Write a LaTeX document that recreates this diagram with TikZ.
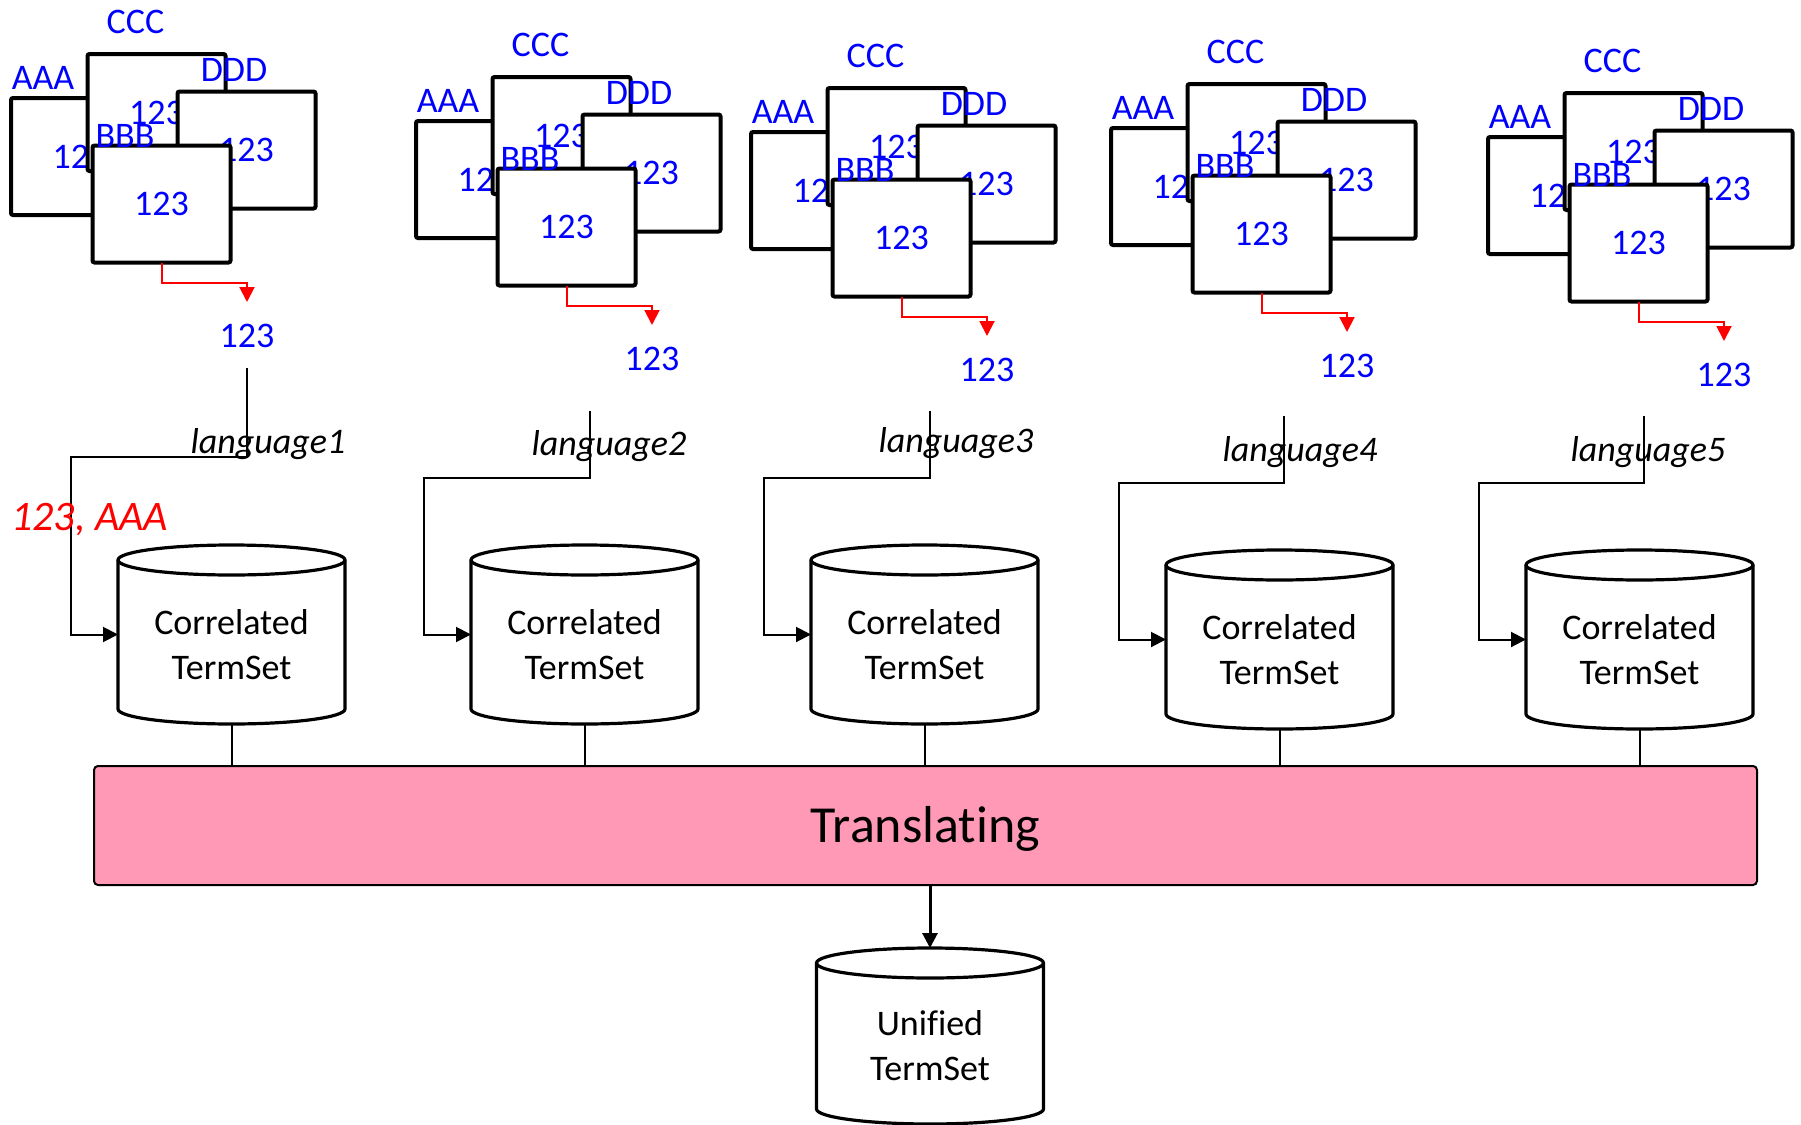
\documentclass[tikz,border=0pt]{standalone}
\usepackage{fontspec}
\setmainfont{Carlito}[Ligatures=NoCommon]
\usetikzlibrary{arrows.meta,calc}

\definecolor{docblue}{RGB}{0,0,255}
\definecolor{flowred}{RGB}{255,0,0}
\definecolor{transpink}{RGB}{255,153,181}

\tikzset{
  docbox/.style={draw=black, line width=2pt, fill=white, rounded corners=1pt,
    minimum width=69pt, minimum height=58.5pt, inner sep=0pt, outer sep=0pt,
    text=docblue, font=\fontsize{18}{21}\selectfont},
  tag/.style={text=docblue, font=\fontsize{18}{21}\selectfont, inner sep=0pt},
  lang/.style={font=\fontsize{18}{21}\selectfont\itshape, inner sep=0pt},
  redconn/.style={draw=flowred, line width=1pt, -{Triangle[width=7.5pt,length=7.5pt]}},
  conn/.style={draw=black, line width=1pt, -{Triangle[width=7.5pt,length=7.5pt]}},
  wire/.style={draw=black, line width=1pt},
  cylbox/.style={draw=none, inner sep=0pt, outer sep=0pt, minimum width=113.5pt},
  cylline/.style={draw=black, line width=1.6pt, fill=white},
  cyltext/.style={align=center, font=\fontsize{18}{22.5}\selectfont, inner sep=0pt},
  transbox/.style={draw=black, line width=1pt, fill=transpink, rounded corners=2pt,
    minimum width=831.5pt, minimum height=59.5pt, inner sep=0pt, outer sep=0pt,
    font=\fontsize{26}{30}\selectfont, text height=22pt, text depth=5pt}
}

% a stack of four overlapping documents with its extracted term
\newcommand\docstack[3]{%
  \begin{scope}[shift={(#2,#3)}]
    \node[docbox] (a#1) at (80,156.5) {123};
    \node[docbox] (c#1) at (156.5,112.5) {123};
    \node[docbox] (d#1) at (246.5,150) {123};
    \node[docbox] (b#1) at (161.5,204) {123};
    \node[tag] (ta#1) at (43,78) {AAA};
    \node[tag] (tc#1) at (135.5,21.5) {CCC};
    \node[tag] (td#1) at (234,69.5) {DDD};
    \node[tag] (tb#1) at (125,136) {BBB};
    \node[tag] (o#1) at (247,336) {123};
    \coordinate (rb#1) at (247,283);
    \coordinate (rt#1) at (247,302);
    \draw[redconn] (b#1.south) |- (rb#1) -- (rt#1);
  \end{scope}}

% database cylinder: name, centre x, top y, bottom y, two text lines
\newcommand\tsdb[6]{%
  \node[cylbox, minimum height={(#4-#3)*0.5pt}] (#1) at (#2,{(#3+#4)/2}) {};
  \draw[cylline] ({#2-113.5},{#3+15}) -- ({#2-113.5},{#4-15})
    arc[start angle=180, end angle=0, x radius=113.5, y radius=15]
    -- ({#2+113.5},{#3+15})
    arc[start angle=0, end angle=-180, x radius=113.5, y radius=15] -- cycle;
  \draw[cylline, fill=none] ({#2-113.5},{#3+15})
    arc[start angle=180, end angle=0, x radius=113.5, y radius=15];
  \node[cyltext] (#1t) at (#2,{(#3+#4)/2+10}) {#5\\#6};}

\begin{document}
\begin{tikzpicture}[x=0.5pt, y=-0.5pt]
  \useasboundingbox (0,0) rectangle (1801,1125);

  % document stacks
  \docstack{1}{0}{0}
  \docstack{2}{405}{23}
  \docstack{3}{740}{34}
  \docstack{4}{1100}{30}
  \docstack{5}{1477}{39}

  % correlated term sets
  \tsdb{cyl1}{231.5}{545}{724}{Correlated}{TermSet}
  \tsdb{cyl2}{584.5}{545}{724}{Correlated}{TermSet}
  \tsdb{cyl3}{924.5}{545}{724}{Correlated}{TermSet}
  \tsdb{cyl4}{1279.5}{550}{729}{Correlated}{TermSet}
  \tsdb{cyl5}{1639.5}{550}{729}{Correlated}{TermSet}

  % language feeds
  \coordinate (s1) at (247,368);  \coordinate (k1) at (71,457);
  \coordinate (s2) at (590,411);  \coordinate (k2) at (424,478);
  \coordinate (s3) at (930,411);  \coordinate (k3) at (764,478);
  \coordinate (s4) at (1284,416); \coordinate (k4) at (1119,483);
  \coordinate (s5) at (1644,416); \coordinate (k5) at (1479,483);
  \foreach \i in {1,...,5}{
    \draw[conn] (s\i) |- (k\i) |- (cyl\i.west);
  }

  \node[lang] (lg1) at (268,444) {language1};
  \node[lang] (lg2) at (609,446) {language2};
  \node[lang] (lg3) at (956,443) {language3};
  \node[lang] (lg4) at (1300,452) {language4};
  \node[lang] (lg5) at (1648,452) {language5};

  \node[inner sep=0pt, text=flowred, font=\fontsize{21}{25}\selectfont\itshape]
    (pair) at (89.5,520) {123, AAA};

  % translation stage
  \node[transbox] (tr) at (925.5,825.5) {Translating};
  \foreach \i in {1,...,5}{
    \draw[wire] (cyl\i.south) -- (cyl\i.south |- tr.north);
  }

  % unified result
  \tsdb{uni}{930}{948}{1124}{Unified}{TermSet}
  \draw[conn, line width=1.5pt] (uni.north |- tr.south) -- (uni.north);
\end{tikzpicture}
\end{document}
